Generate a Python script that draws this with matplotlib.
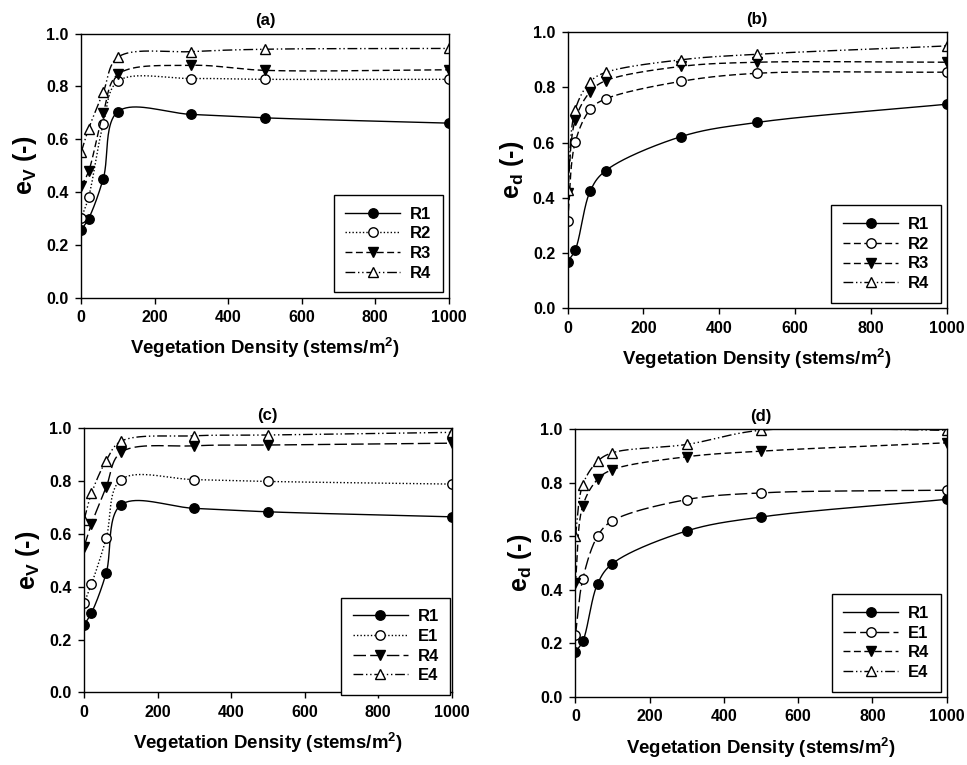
import numpy as np
import matplotlib
matplotlib.use('Agg')
import matplotlib.pyplot as plt

matplotlib.rcParams['font.family'] = ['Liberation Sans', 'DejaVu Sans']
matplotlib.rcParams['font.weight'] = 'bold'
matplotlib.rcParams['mathtext.fontset'] = 'custom'
matplotlib.rcParams['mathtext.rm'] = 'Liberation Sans:bold'
matplotlib.rcParams['mathtext.bf'] = 'Liberation Sans:bold'
matplotlib.rcParams['mathtext.it'] = 'Liberation Sans:bold'

# 植被密度 (stems/m2)
density = [0, 20, 60, 100, 300, 500, 1000]

# (a) e_v
a_R1 = [0.257, 0.299, 0.451, 0.705, 0.694, 0.681, 0.661]
a_R2 = [0.301, 0.380, 0.658, 0.820, 0.830, 0.827, 0.827]
a_R3 = [0.422, 0.478, 0.700, 0.846, 0.880, 0.861, 0.863]
a_R4 = [0.551, 0.639, 0.778, 0.911, 0.932, 0.941, 0.944]

# (b) e_d
b_R1 = [0.169, 0.211, 0.426, 0.498, 0.622, 0.673, 0.739]
b_R2 = [0.316, 0.601, 0.721, 0.758, 0.822, 0.851, 0.855]
b_R3 = [0.419, 0.682, 0.785, 0.824, 0.876, 0.891, 0.891]
b_R4 = [0.429, 0.719, 0.821, 0.854, 0.900, 0.920, 0.950]

# (c) e_v
c_R1 = [0.256, 0.301, 0.452, 0.710, 0.697, 0.684, 0.665]
c_E1 = [0.338, 0.410, 0.583, 0.806, 0.806, 0.799, 0.789]
c_R4 = [0.552, 0.638, 0.777, 0.909, 0.934, 0.937, 0.944]
c_E4 = [0.654, 0.754, 0.878, 0.951, 0.972, 0.975, 0.985]

# (d) e_d
d_R1 = [0.168, 0.208, 0.423, 0.498, 0.620, 0.672, 0.738]
d_E1 = [0.230, 0.440, 0.601, 0.658, 0.737, 0.762, 0.772]
d_R4 = [0.426, 0.714, 0.813, 0.849, 0.897, 0.918, 0.949]
d_E4 = [0.600, 0.793, 0.880, 0.912, 0.943, 0.996, 0.996]


def smooth_curve(x, y, sx=0.368, sy=264.0, n=40):
    """向心 Catmull-Rom 样条（在屏幕比例下计算），只用于画平滑连线"""
    P = np.column_stack([np.asarray(x, float) * sx, np.asarray(y, float) * sy])
    P = np.vstack([2 * P[0] - P[1], P, 2 * P[-1] - P[-2]])
    pts = []
    for i in range(1, len(P) - 2):
        p0, p1, p2, p3 = P[i - 1], P[i], P[i + 1], P[i + 2]
        t0 = 0.0
        t1 = t0 + max(np.linalg.norm(p1 - p0), 1e-6) ** 0.5
        t2 = t1 + max(np.linalg.norm(p2 - p1), 1e-6) ** 0.5
        t3 = t2 + max(np.linalg.norm(p3 - p2), 1e-6) ** 0.5
        t = np.linspace(t1, t2, n)[:, None]
        a1 = (t1 - t) / (t1 - t0) * p0 + (t - t0) / (t1 - t0) * p1
        a2 = (t2 - t) / (t2 - t1) * p1 + (t - t1) / (t2 - t1) * p2
        a3 = (t3 - t) / (t3 - t2) * p2 + (t - t2) / (t3 - t2) * p3
        b1 = (t2 - t) / (t2 - t0) * a1 + (t - t0) / (t2 - t0) * a2
        b2 = (t3 - t) / (t3 - t1) * a2 + (t - t1) / (t3 - t1) * a3
        c = (t2 - t) / (t2 - t1) * b1 + (t - t1) / (t2 - t1) * b2
        pts.append(c)
    pts = np.vstack(pts)
    return pts[:, 0] / sx, pts[:, 1] / sy


dash_dotdot = (0, (7, 2, 1, 2, 1, 2))
styles = {
    'solid': '-',
    'dot': (0, (1, 1.5)),
    'dash': (0, (5, 2.5)),
    'longdash': (0, (9, 3)),
    'dotdash': dash_dotdot,
}
markers = {
    'fc': dict(marker='o', mfc='black'),
    'oc': dict(marker='o', mfc='white'),
    'ft': dict(marker='v', mfc='black'),
    'ot': dict(marker='^', mfc='white'),
}

# 标题, y 轴标签, 坐标轴位置, 图例锚点, 数据
panels = [
    ('(a)', 'e$_{V}$ (-)', [0.084, 0.611, 0.380, 0.345], (0.985, 0.02),
     [('R1', a_R1, 'solid', 'fc'), ('R2', a_R2, 'dot', 'oc'),
      ('R3', a_R3, 'dash', 'ft'), ('R4', a_R4, 'dotdash', 'ot')]),
    ('(b)', 'e$_{d}$ (-)', [0.587, 0.597, 0.392, 0.361], (0.985, 0.02),
     [('R1', b_R1, 'solid', 'fc'), ('R2', b_R2, 'dash', 'oc'),
      ('R3', b_R3, 'dash', 'ft'), ('R4', b_R4, 'dotdash', 'ot')]),
    ('(c)', 'e$_{V}$ (-)', [0.087, 0.095, 0.380, 0.345], (0.997, -0.01),
     [('R1', c_R1, 'solid', 'fc'), ('E1', c_E1, 'dot', 'oc'),
      ('R4', c_R4, 'longdash', 'ft'), ('E4', c_E4, 'dotdash', 'ot')]),
    ('(d)', 'e$_{d}$ (-)', [0.595, 0.089, 0.384, 0.350], (0.985, 0.02),
     [('R1', d_R1, 'solid', 'fc'), ('E1', d_E1, 'longdash', 'oc'),
      ('R4', d_R4, 'dash', 'ft'), ('E4', d_E4, 'dotdash', 'ot')]),
]

fig = plt.figure(figsize=(9.67, 7.65), dpi=100)

for title, ylab, rect, anchor, series in panels:
    ax = fig.add_axes(rect)
    handles = []
    for label, vals, ls, mk in series:
        xs, ys = smooth_curve(density, vals)
        ax.plot(xs, ys, color='black', lw=1.0, linestyle=styles[ls])
        ax.plot(density, vals, linestyle='none', color='black', mec='black',
                ms=6.8, mew=1.0, **markers[mk])
        # 图例用的句柄
        h, = ax.plot([], [], color='black', lw=1.0, linestyle=styles[ls],
                     mec='black', ms=6.8, mew=1.0, label=label, **markers[mk])
        handles.append(h)
    ax.set_xlim(0, 1000)
    ax.set_ylim(0, 1.0)
    ax.set_xticks(range(0, 1001, 200))
    ax.set_yticks(np.arange(0, 1.01, 0.2))
    ax.set_yticklabels([f'{v:.1f}' for v in np.arange(0, 1.01, 0.2)])
    ax.tick_params(direction='out', length=4, width=1, labelsize=11.5, pad=5)
    for lab in ax.get_xticklabels() + ax.get_yticklabels():
        lab.set_fontweight('bold')
    for sp in ax.spines.values():
        sp.set_linewidth(1.0)
    ax.set_title(title, fontsize=12, fontweight='bold', pad=6)
    ax.set_ylabel(ylab, fontsize=18, fontweight='bold', labelpad=5)
    ax.set_xlabel('Vegetation Density (stems/m$^{2}$)', fontsize=13.4,
                  fontweight='bold', labelpad=8)
    leg = ax.legend(handles=handles, loc='lower right', bbox_to_anchor=anchor,
                    frameon=True, fancybox=False, edgecolor='black',
                    framealpha=1, handlelength=3.3, borderpad=0.7,
                    labelspacing=0.28, handletextpad=0.6, borderaxespad=0.0,
                    prop={'weight': 'bold', 'size': 12})
    leg.get_frame().set_linewidth(1.0)
    leg.set_clip_on(False)

fig.savefig('out.png', dpi=100)
